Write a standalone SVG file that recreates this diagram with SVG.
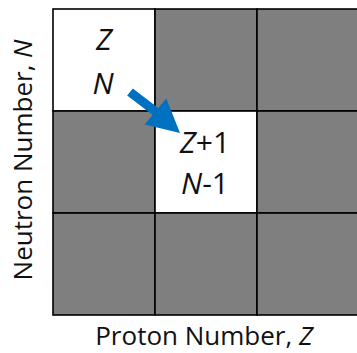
<svg xmlns="http://www.w3.org/2000/svg" width="357" height="353" viewBox="0 0 357 353">
<style>
.cell{stroke:#000;stroke-width:1.6}
.g{fill:#7f7f7f}
.w{fill:#fff}
.t{font-family:"Open Sans","Noto Sans",sans-serif;font-size:30px;fill:#111;text-anchor:middle}
.ax{font-family:"Open Sans","Noto Sans",sans-serif;font-size:26px;fill:#111;text-anchor:middle}
.i{font-style:italic}
</style>
<rect width="357" height="353" fill="#fff"/>
<g id="grid">
<rect class="cell w" x="53" y="9" width="102" height="102"/>
<rect class="cell g" x="155" y="9" width="102" height="102"/>
<rect class="cell g" x="257" y="9" width="102" height="102"/>
<rect class="cell g" x="53" y="111" width="102" height="102"/>
<rect class="cell w" x="155" y="111" width="102" height="102"/>
<rect class="cell g" x="257" y="111" width="102" height="102"/>
<rect class="cell g" x="53" y="213" width="102" height="102"/>
<rect class="cell g" x="155" y="213" width="102" height="102"/>
<rect class="cell g" x="257" y="213" width="102" height="102"/>
</g>
<g id="node-start">
<text class="t i" x="104" y="50">Z</text>
<text class="t i" x="103" y="94">N</text>
</g>
<g id="node-end">
<text class="t" x="205" y="153"><tspan class="i">Z</tspan>+1</text>
<text class="t" x="205" y="194"><tspan class="i">N</tspan>-1</text>
</g>
<g id="connectors">
<polygon fill="#0070c0" points="132.85,88.52 158.35,108.02 166.3,98.4 180,133 144.7,124.6 152.65,114.98 127.15,95.48"/>
</g>
<g id="labels">
<text class="ax" x="204" y="345">Proton Number, <tspan class="i">Z</tspan></text>
<text class="ax" transform="translate(32,160) rotate(-90)" x="0" y="0">Neutron Number, <tspan class="i">N</tspan></text>
</g>
</svg>
